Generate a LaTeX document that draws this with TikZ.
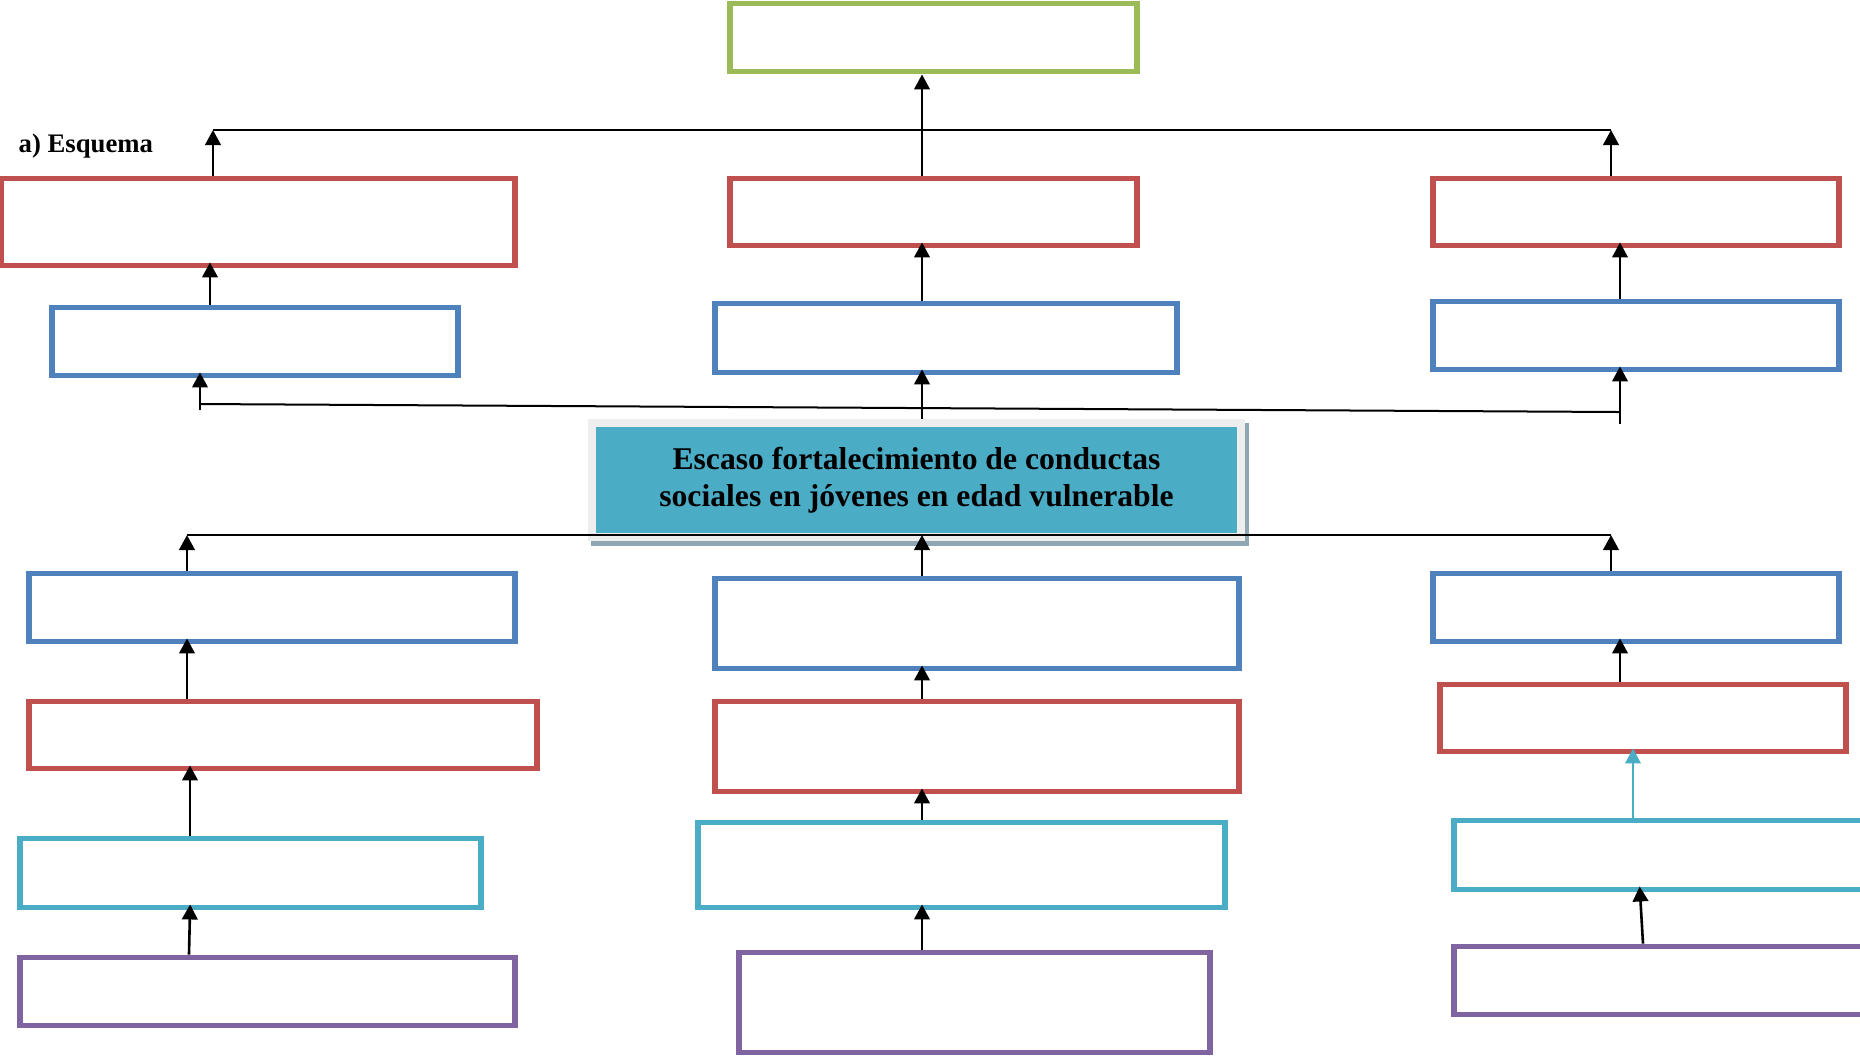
\documentclass[tikz,border=0pt]{standalone}
\usepackage{fontspec}
\setmainfont{Liberation Serif}
\usetikzlibrary{arrows.meta,backgrounds}

\definecolor{boxgreen}{HTML}{9BBB59}
\definecolor{boxred}{HTML}{C0504D}
\definecolor{boxblue}{HTML}{4F81BD}
\definecolor{boxcyan}{HTML}{4BACC6}
\definecolor{boxpurple}{HTML}{8064A2}
\definecolor{coreteal}{HTML}{4BACC6}
\definecolor{coreframe}{HTML}{EEEEEE}
\definecolor{coreshadow}{HTML}{8FA7B3}

\tikzset{
	box/.style={draw=#1, line width=0.058cm, inner sep=0pt, fill=white},
	arr/.style={-{Triangle[length=0.15cm,width=0.155cm]}, line width=0.026cm},
	into/.style={shorten >=-0.06cm},
	bar/.style={line width=0.02cm},
}

\begin{document}
\begin{tikzpicture}[x=0.01cm, y=-0.01cm]
	\useasboundingbox (0,0) rectangle (1860,1059);
	\clip (0,0) rectangle (1860,1059);
	% Boxes above the problem:
	\node[box=boxgreen, minimum width=4.06cm, minimum height=0.68cm] (topG) at (933.5, 37.5){};
	\node[box=boxred, minimum width=5.135cm, minimum height=0.87cm] (eR1) at (257.75, 222){};
	\node[box=boxred, minimum width=4.06cm, minimum height=0.67cm] (eR2) at (933.5, 212){};
	\node[box=boxred, minimum width=4.05cm, minimum height=0.67cm] (eR3) at (1636, 212){};
	\node[box=boxblue, minimum width=4.05cm, minimum height=0.68cm] (eB1) at (255, 341.5){};
	\node[box=boxblue, minimum width=4.61cm, minimum height=0.69cm] (eB2) at (946, 338){};
	\node[box=boxblue, minimum width=4.05cm, minimum height=0.68cm] (eB3) at (1636, 335.5){};
	\node[font=\fontsize{7.6pt}{9pt}\selectfont\bfseries, anchor=west, inner sep=0pt] (lbl) at (18, 146){a) Esquema};
	% Problem:
	\node[fill=coreteal, draw=coreframe, line width=0.08cm, minimum width=6.49cm, minimum height=1.14cm, align=center,
		font=\fontsize{9pt}{10.6pt}\selectfont\bfseries] (core) at (916.5, 480){Escaso fortalecimiento de conductas\\sociales en jóvenes en edad vulnerable};
	\begin{scope}[on background layer]
		\fill[coreshadow] ([xshift=0.03cm,yshift=-0.045cm]core.south west) rectangle ([xshift=0.04cm,yshift=-0.04cm]core.north east);
	\end{scope}
	% Boxes below the problem:
	\node[box=boxblue, minimum width=4.85cm, minimum height=0.68cm] (cB1) at (272, 607.5){};
	\node[box=boxblue, minimum width=5.23cm, minimum height=0.90cm] (cB2) at (977, 623.5){};
	\node[box=boxblue, minimum width=4.05cm, minimum height=0.68cm] (cB3) at (1636, 607.5){};
	\node[box=boxred, minimum width=5.07cm, minimum height=0.67cm] (cR1) at (283, 735){};
	\node[box=boxred, minimum width=5.23cm, minimum height=0.90cm] (cR2) at (977, 746.5){};
	\node[box=boxred, minimum width=4.05cm, minimum height=0.67cm] (cR3) at (1643, 718){};
	\node[box=boxcyan, minimum width=4.60cm, minimum height=0.69cm] (cC1) at (250.5, 873){};
	\node[box=boxcyan, minimum width=5.26cm, minimum height=0.85cm] (cC2) at (961.5, 865){};
	\node[box=boxcyan, minimum width=4.13cm, minimum height=0.69cm] (cC3) at (1661, 855){};
	\node[box=boxpurple, minimum width=4.94cm, minimum height=0.68cm] (cP1) at (267.5, 991.5){};
	\node[box=boxpurple, minimum width=4.70cm, minimum height=1.00cm] (cP2) at (974.5, 1002.5){};
	\node[box=boxpurple, minimum width=4.13cm, minimum height=0.68cm] (cP3) at (1661, 980.5){};
	% Joints:
	\coordinate (jL) at (213, 130);
	\coordinate (jR) at (1611, 130);
	\coordinate (mL) at (200, 404);
	\coordinate (mR) at (1620, 412);
	\coordinate (mL0) at (200, 410);
	\coordinate (mR0) at (1620, 424);
	\coordinate (kL) at (187, 535);
	\coordinate (kR) at (1611, 535);
	% Wires above:
	\draw[bar] (jL) -- (jR);
	\draw[arr] (eR1.north -| jL) -- (jL);
	\draw[arr] (eR3.north -| jR) -- (jR);
	\draw[arr] (922,0 |- eR2.north) -- (922,0 |- topG.south);
	\draw[arr, into] (210,0 |- eB1.north) -- (210,0 |- eR1.south);
	\draw[arr, into] (922,0 |- eB2.north) -- (922,0 |- eR2.south);
	\draw[arr, into] (1620,0 |- eB3.north) -- (1620,0 |- eR3.south);
	\draw[bar] (mL) -- (mR);
	\draw[arr, into] (mL0) -- (200,0 |- eB1.south);
	\draw[arr, into] (mR0) -- (1620,0 |- eB3.south);
	\draw[arr, into] (922,0 |- core.north) -- (922,0 |- eB2.south);
	% Wires below:
	\draw[bar] (kL) -- (kR);
	\draw[arr] (cB1.north -| kL) -- (kL);
	\draw[arr] (922,0 |- cB2.north) -- (922,0 |- kL);
	\draw[arr] (cB3.north -| kR) -- (kR);
	\draw[arr, into] (187,0 |- cR1.north) -- (187,0 |- cB1.south);
	\draw[arr, into] (190,0 |- cC1.north) -- (190,0 |- cR1.south);
	\draw[arr, into] (189,0 |- cP1.north) -- (190,0 |- cC1.south);
	\draw[arr, into] (922,0 |- cR2.north) -- (922,0 |- cB2.south);
	\draw[arr, into] (922,0 |- cC2.north) -- (922,0 |- cR2.south);
	\draw[arr, into] (922,0 |- cP2.north) -- (922,0 |- cC2.south);
	\draw[arr, into] (1620,0 |- cR3.north) -- (1620,0 |- cB3.south);
	\draw[arr, into, draw=boxcyan, line width=0.02cm] (1633,0 |- cC3.north) -- (1633,0 |- cR3.south);
	\draw[arr, into] (1643,0 |- cP3.north) -- (1640,0 |- cC3.south);
\end{tikzpicture}
\end{document}
